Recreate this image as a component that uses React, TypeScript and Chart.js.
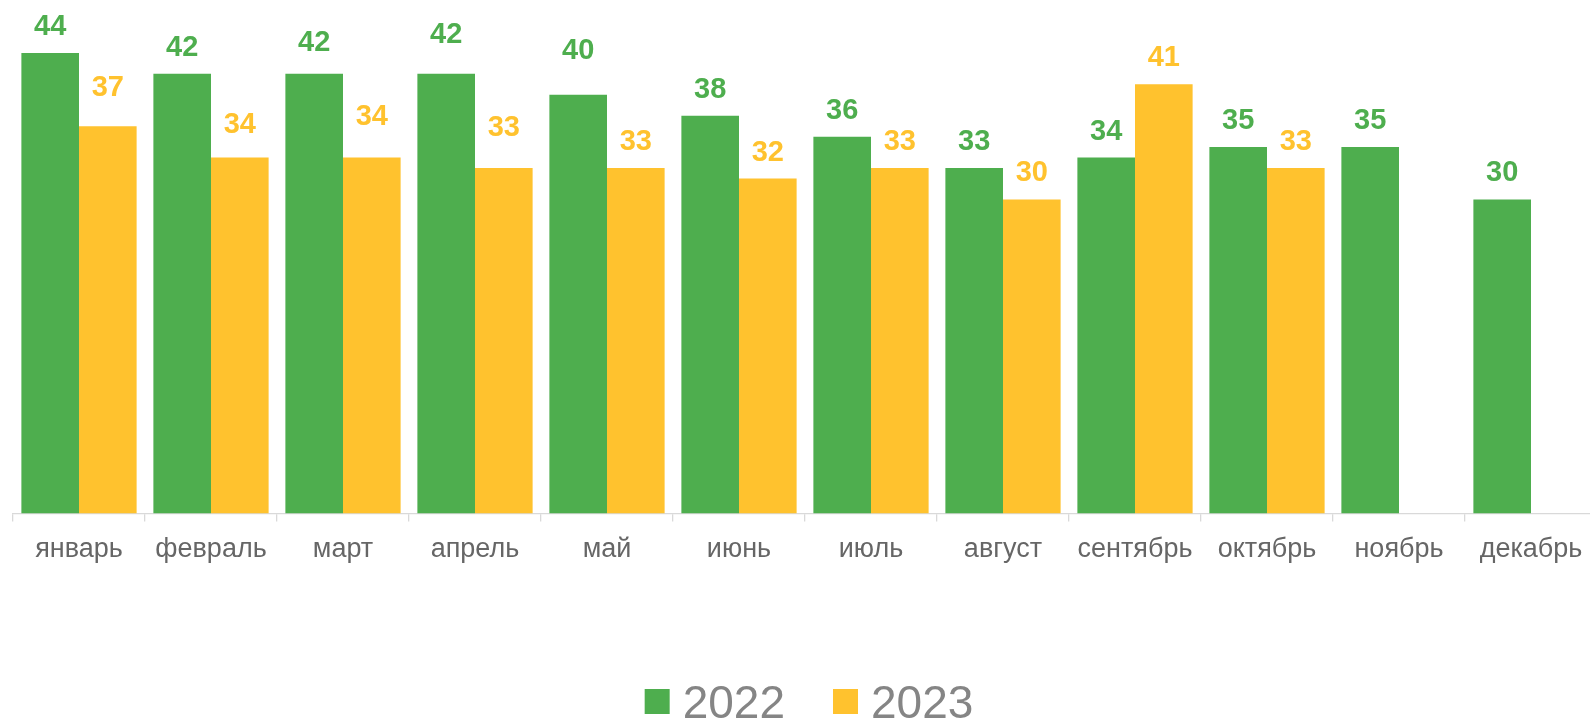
import React, { useEffect, useRef } from 'react';
import { Chart, registerables } from 'chart.js';

Chart.register(...registerables);

const months = ['январь', 'февраль', 'март', 'апрель', 'май', 'июнь', 'июль', 'август', 'сентябрь', 'октябрь', 'ноябрь', 'декабрь'];
const seriesNames = ['2022', '2023'];
const values2022 = [44, 42, 42, 42, 40, 38, 36, 33, 34, 35, 35, 30];
const values2023: (number | null)[] = [37, 34, 34, 33, 33, 32, 33, 30, 41, 33, null, null];

// extra vertical nudge of some value labels (px), as placed in the original
const labelLift2022 = [0, 0, 5, 13, 18, 0, 0, 0, 0, 0, 0, 0];
const labelLift2023 = [12, 7, 15, 14, 0, 0, 0, 0, 0, 0, 0, 0];

const GREEN = '#4EAE4E';
const YELLOW = '#FFC22E';
const SANS = '"Liberation Sans", Arial, sans-serif';

const valueLabels = {
  id: 'valueLabels',
  afterDatasetsDraw(chart: any, _args: any, opts: any) {
    const ctx = chart.ctx;
    chart.data.datasets.forEach((ds: any, di: number) => {
      const meta = chart.getDatasetMeta(di);
      const lifts = (opts.lifts && opts.lifts[di]) || [];
      meta.data.forEach((el: any, i: number) => {
        const v = ds.data[i];
        if (v === null || v === undefined) return;
        ctx.save();
        ctx.font = `bold 29px ${SANS}`;
        ctx.fillStyle = ds.backgroundColor;
        ctx.textAlign = 'center';
        ctx.textBaseline = 'alphabetic';
        ctx.fillText(String(v), el.x, el.y - 18 - (lifts[i] || 0));
        ctx.restore();
      });
    });
  },
};

const bottomLegend = {
  id: 'bottomLegend',
  afterDraw(chart: any) {
    const ctx = chart.ctx;
    ctx.save();
    ctx.font = `46px ${SANS}`;
    const box = 25;
    const gapText = 13;
    const gapItem = 48;
    const items = chart.data.datasets.map((ds: any) => ({
      text: ds.label,
      color: ds.backgroundColor,
      w: ctx.measureText(ds.label).width,
    }));
    const total = items.reduce((s: number, it: any) => s + box + gapText + it.w, 0) + gapItem * (items.length - 1);
    let x = chart.width / 2 - total / 2;
    const baseline = chart.height - 2;
    const boxTop = chart.height - 31;
    items.forEach((it: any) => {
      ctx.fillStyle = it.color;
      ctx.fillRect(x, boxTop, box, box);
      x += box + gapText;
      ctx.fillStyle = '#858585';
      ctx.textAlign = 'left';
      ctx.textBaseline = 'alphabetic';
      ctx.fillText(it.text, x, baseline);
      x += it.w + gapItem;
    });
    ctx.restore();
  },
};

export default function App() {
  const ref = useRef<HTMLCanvasElement | null>(null);

  useEffect(() => {
    if (!ref.current) return;
    const chart = new Chart(ref.current, {
      type: 'bar',
      data: {
        labels: months,
        datasets: [
          { label: seriesNames[0], data: values2022, backgroundColor: GREEN, borderWidth: 0 },
          { label: seriesNames[1], data: values2023, backgroundColor: YELLOW, borderWidth: 0 },
        ],
      },
      options: {
        animation: false,
        responsive: true,
        maintainAspectRatio: false,
        layout: { padding: { top: 11, left: 13, right: 21, bottom: 0 } },
        datasets: { bar: { categoryPercentage: 0.873, barPercentage: 1.0 } },
        scales: {
          x: {
            grid: { display: true, drawOnChartArea: false, drawTicks: true, tickLength: 8, color: '#d9d9d9', lineWidth: 1.3, offset: true },
            border: { display: true, color: '#d9d9d9', width: 1.3 },
            ticks: {
              color: '#666666',
              font: { family: SANS, size: 27 },
              padding: 12,
              maxRotation: 0,
              minRotation: 0,
              autoSkip: false,
            },
            afterFit: (scale: any) => {
              scale.height = 206.5;
            },
          },
          y: { display: false, min: 0, max: 48 },
        },
        plugins: {
          legend: { display: false },
          tooltip: { enabled: false },
          valueLabels: { lifts: [labelLift2022, labelLift2023] },
        } as any,
      },
      plugins: [valueLabels, bottomLegend],
    });
    return () => chart.destroy();
  }, []);

  return (
    <div style={{ position: 'absolute', left: 0, top: 0, width: 1590, height: 720, overflow: 'hidden', background: '#fff' }}>
      <div style={{ position: 'relative', width: 1618, height: 720 }}>
        <canvas ref={ref} />
      </div>
    </div>
  );
}
